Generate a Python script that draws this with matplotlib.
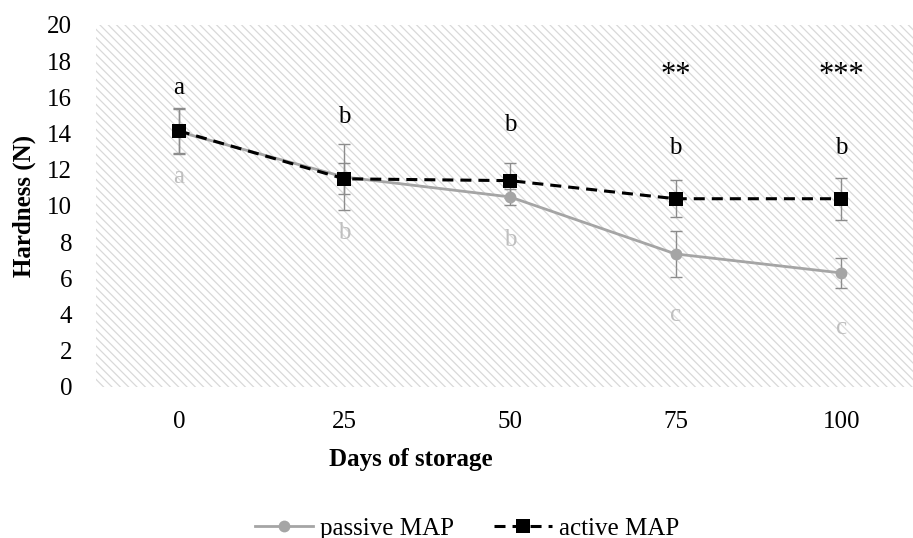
import matplotlib
matplotlib.use("Agg")
import matplotlib.pyplot as plt
from matplotlib.patches import Rectangle

# data
days = ["0", "25", "50", "75", "100"]
passive = [14.1, 11.6, 10.5, 7.35, 6.3]
passive_err = [1.25, 1.85, 0.45, 1.25, 0.84]
active = [14.15, 11.5, 11.4, 10.4, 10.4]
active_err = [1.25, 0.85, 0.95, 1.03, 1.17]

active_letters = ["a", "b", "b", "b", "b"]
active_letter_y = [16.5, 14.9, 14.5, 13.2, 13.2]
passive_letters = ["a", "b", "b", "c", "c"]
passive_letter_y = [11.6, 8.5, 8.1, 4.0, 3.25]
stars = ["", "", "", "**", "***"]
star_y = [17.2, 17.2, 17.2, 17.2, 17.2]

plt.rcParams["font.family"] = ["Liberation Serif", "DejaVu Serif"]
plt.rcParams["hatch.linewidth"] = 0.9

FS = 18

fig = plt.figure(figsize=(9.13, 5.38), dpi=100)
ax = fig.add_axes([0.1051, 0.2807, 0.907, 0.6729])

x = list(range(len(days)))

# hatched plot background
bg = Rectangle((0, 0), 1, 1, transform=ax.transAxes, facecolor="white",
               edgecolor="#d9d9d9", hatch="\\\\\\\\", lw=0, zorder=0)
ax.add_patch(bg)

ax.errorbar(x, passive, yerr=passive_err, fmt="none", ecolor="#8c8c8c",
            elinewidth=1.0, capsize=4.3, capthick=1.0, zorder=2)
ax.errorbar(x, active, yerr=active_err, fmt="none", ecolor="#8c8c8c",
            elinewidth=1.0, capsize=4.3, capthick=1.0, zorder=2)

ax.plot(x, passive, color="#a5a5a5", lw=2.0, marker="o", markersize=8.5,
        markeredgewidth=0, label="passive MAP", zorder=3)
ax.plot(x, active, color="black", lw=2.2, linestyle=(0, (3.6, 2.3)),
        marker="s", markersize=10, markeredgewidth=0,
        label="active MAP", zorder=4)

for i in x:
    ax.text(i, active_letter_y[i], active_letters[i], ha="center",
            va="center", fontsize=FS, color="black")
    ax.text(i, passive_letter_y[i], passive_letters[i], ha="center",
            va="center", fontsize=FS, color="#bfbfbf")
    if stars[i]:
        ax.text(i, star_y[i], stars[i], ha="center", va="center",
                fontsize=22, color="black")

ax.set_xlim(-0.5, 4.5)
ax.set_ylim(0, 20)
ax.set_yticks(range(0, 21, 2))
ax.set_xticks(x)
ax.set_xticklabels(days)
ax.tick_params(length=0, labelsize=FS)
ax.tick_params(axis="y", pad=17)
ax.tick_params(axis="x", pad=17)
for s in ax.spines.values():
    s.set_visible(False)

ax.set_xlabel("Days of storage", fontsize=FS, fontweight="bold")
ax.xaxis.set_label_coords((411 - 96) / 828, -(448 - 387) / 362)
ax.set_ylabel("Hardness (N)", fontsize=FS, fontweight="bold")
ax.yaxis.set_label_coords(-(96 - 36) / 828, 0.5)

fig.legend(loc="center", bbox_to_anchor=(0.512, 0.018), ncol=2, frameon=False,
           fontsize=FS, handlelength=2.3, columnspacing=1.6,
           handletextpad=0.3)

fig.savefig("out.png", dpi=100)
